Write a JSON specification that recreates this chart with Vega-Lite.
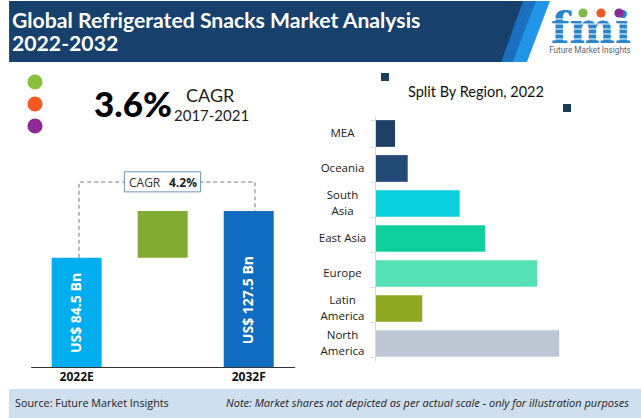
{"$schema":"https://vega.github.io/schema/vega-lite/v6.json","width":641,"height":418,"padding":0,"autosize":{"type":"none"},"background":"#ffffff","view":{"stroke":null},"config":{"font":"Open Sans"},
"resolve":{"scale":{"x":"independent","y":"independent","color":"independent"}},
"layer":[
{"data":{"values":[{"part":"light","edge":"top","reach":85.8},{"part":"light","edge":"bottom","reach":82.2},{"part":"mid","edge":"top","reach":83.6},{"part":"mid","edge":"bottom","reach":80.0},{"part":"navy","edge":"top","reach":81.6},{"part":"navy","edge":"bottom","reach":78.2}]},
"mark":{"type":"area","orient":"horizontal"},
"encoding":{"y":{"field":"edge","type":"ordinal","scale":{"type":"point","domain":["top","bottom"],"range":[1,62],"padding":0},"axis":null},"x":{"field":"reach","type":"quantitative","scale":{"domain":[0,100],"range":[0,641]},"axis":null},"x2":{"datum":1.45},"color":{"field":"part","type":"nominal","scale":{"domain":["light","mid","navy"],"range":["#2196e8","#1a6fbe","#17406d"]},"legend":null},"order":{"field":"part","sort":"ascending"},"detail":{"field":"part"}}},
{"data":{"values":[{"text":"Global Refrigerated Snacks Market Analysis","line":"first"},{"text":"2022-2032","line":"second"}]},
"mark":{"type":"text","align":"left","baseline":"middle","font":"Lato","fontWeight":"bold","fontSize":21.2,"color":"#ffffff"},
"encoding":{"text":{"field":"text"},"x":{"field":"line","type":"nominal","scale":{"type":"point","padding":0,"domain":["first","second"],"range":[12,12]},"axis":null},"y":{"field":"line","type":"nominal","scale":{"type":"point","padding":0,"domain":["first","second"],"range":[22,45]},"axis":null}}},
{"data":{"values":[{"text":"fmi"}]},
"mark":{"type":"text","align":"center","baseline":"alphabetic","font":"DejaVu Serif","fontWeight":"bold","fontSize":43,"color":"#2b85c9"},
"encoding":{"text":{"field":"text"},"x":{"field":"text","type":"nominal","scale":{"type":"point","padding":0,"domain":["fmi"],"range":[591,591]},"axis":null},"y":{"field":"text","type":"nominal","scale":{"type":"point","padding":0,"domain":["fmi"],"range":[43,43]},"axis":null}}},
{"data":{"values":[{"stripe":"a"},{"stripe":"b"},{"stripe":"c"},{"stripe":"d"},{"stripe":"e"}]},
"mark":{"type":"rule","color":"#ffffff","strokeWidth":1},
"encoding":{"y":{"field":"stripe","type":"nominal","scale":{"type":"point","padding":0,"domain":["a","b","c","d","e"],"range":[19,39]},"axis":null},"x":{"datum":85,"scale":{"domain":[0,100],"range":[0,641]},"axis":null},"x2":{"datum":99}}},
{"data":{"values":[{"text":"Future Market Insights"}]},
"mark":{"type":"text","align":"center","baseline":"middle","font":"Roboto","fontSize":8.2,"color":"#5b6670"},
"encoding":{"text":{"field":"text"},"x":{"field":"text","type":"nominal","scale":{"type":"point","padding":0,"domain":["Future Market Insights"],"range":[590,590]},"axis":null},"y":{"field":"text","type":"nominal","scale":{"type":"point","padding":0,"domain":["Future Market Insights"],"range":[51,51]},"axis":null}}},
{"data":{"values":[{"dot":"a"},{"dot":"b"},{"dot":"c"}]},
"mark":{"type":"point","filled":true,"opacity":1,"size":85},
"encoding":{"x":{"field":"dot","type":"nominal","scale":{"type":"point","padding":0,"domain":["a","b","c"],"range":[583,619]},"axis":null},"y":{"field":"dot","type":"nominal","scale":{"type":"point","padding":0,"domain":["a","b","c"],"range":[13,13]},"axis":null},"color":{"field":"dot","type":"nominal","scale":{"domain":["a","b","c"],"range":["#7dbb42","#ee5a24","#8e2a96"]},"legend":null}}},
{"data":{"values":[{"dot":"a"},{"dot":"b"},{"dot":"c"}]},
"mark":{"type":"point","filled":true,"opacity":1,"size":230},
"encoding":{"x":{"field":"dot","type":"nominal","scale":{"type":"point","padding":0,"domain":["a","b","c"],"range":[35,35]},"axis":null},"y":{"field":"dot","type":"nominal","scale":{"type":"point","padding":0,"domain":["a","b","c"],"range":[82,126]},"axis":null},"color":{"field":"dot","type":"nominal","scale":{"domain":["a","b","c"],"range":["#8ac13c","#f95a23","#8e2a96"]},"legend":null}}},
{"data":{"values":[{"text":"3.6%"}]},
"mark":{"type":"text","align":"left","baseline":"middle","font":"Lato","fontWeight":900,"fontSize":35,"color":"#000000"},
"encoding":{"text":{"field":"text"},"x":{"field":"text","type":"nominal","scale":{"type":"point","padding":0,"domain":["3.6%"],"range":[94,94]},"axis":null},"y":{"field":"text","type":"nominal","scale":{"type":"point","padding":0,"domain":["3.6%"],"range":[106,106]},"axis":null}}},
{"data":{"values":[{"text":"CAGR"}]},
"mark":{"type":"text","align":"left","baseline":"middle","font":"Lato","fontSize":18,"color":"#222222"},
"encoding":{"text":{"field":"text"},"x":{"field":"text","type":"nominal","scale":{"type":"point","padding":0,"domain":["CAGR"],"range":[186,186]},"axis":null},"y":{"field":"text","type":"nominal","scale":{"type":"point","padding":0,"domain":["CAGR"],"range":[97,97]},"axis":null}}},
{"data":{"values":[{"text":"2017-2021"}]},
"mark":{"type":"text","align":"left","baseline":"middle","font":"Lato","fontSize":15,"color":"#222222"},
"encoding":{"text":{"field":"text"},"x":{"field":"text","type":"nominal","scale":{"type":"point","padding":0,"domain":["2017-2021"],"range":[174,174]},"axis":null},"y":{"field":"text","type":"nominal","scale":{"type":"point","padding":0,"domain":["2017-2021"],"range":[116,116]},"axis":null}}},
{"data":{"values":[{"step":1,"year":"2022E","level":84.5},{"step":2,"year":"2022E","level":154.1},{"step":3,"year":"2032F","level":154.1},{"step":4,"year":"2032F","level":127.5}]},
"mark":{"type":"line","strokeDash":[4,3],"strokeWidth":1,"color":"#7a7a7a"},
"encoding":{"x":{"field":"year","type":"ordinal","scale":{"type":"point","domain":["2022E","2032F"],"range":[79,255],"padding":0},"axis":null},"y":{"field":"level","type":"quantitative","scale":{"domain":[-15.8,127.5],"range":[367,211]},"axis":null},"order":{"field":"step"}}},
{"data":{"values":[{"year":"2022E","value":84.5,"base":-15.8,"text":"US$ 84.5 Bn"},{"year":"Growth","value":127.5,"base":84.5,"text":""},{"year":"2032F","value":127.5,"base":-15.8,"text":"US$ 127.5 Bn"}]},
"encoding":{"x":{"field":"year","type":"ordinal","scale":{"type":"band","domain":["2022E","Growth","2032F"],"range":[30.7,294.7],"paddingInner":0.419,"paddingOuter":0.244},"axis":{"orient":"bottom","offset":-51,"title":null,"ticks":false,"labelAngle":0,"labelFontWeight":"bold","labelFontSize":12,"labelFont":"Open Sans","labelColor":"#111111","labelPadding":4,"domainColor":"#333333","domainWidth":1,"grid":false,"labelExpr":"datum.label == 'Growth' ? '' : datum.label"}},"y":{"field":"value","type":"quantitative","scale":{"domain":[-15.8,127.5],"range":[367,211]},"axis":null}},
"layer":[
{"mark":{"type":"bar"},"encoding":{"y2":{"field":"base"},"color":{"field":"year","type":"nominal","scale":{"domain":["2022E","Growth","2032F"],"range":["#00adef","#81ab33","#0f6cbf"]},"legend":null}}},
{"transform":[{"filter":"datum.year === '2022E'"}],"mark":{"type":"text","angle":270,"align":"center","baseline":"middle","fontWeight":"bold","fontSize":14,"color":"#ffffff"},"encoding":{"text":{"field":"text"},"y":{"datum":33.8}}},
{"transform":[{"filter":"datum.year === '2032F'"}],"mark":{"type":"text","angle":270,"align":"center","baseline":"middle","fontWeight":"bold","fontSize":14,"color":"#ffffff"},"encoding":{"text":{"field":"text"},"y":{"datum":45.7}}}
]},
{"data":{"values":[{"box":"CAGR"}]},
"mark":{"type":"rect","fill":"#ffffff","stroke":"#6b93b5","strokeWidth":1},
"encoding":{"x":{"datum":19.4,"scale":{"domain":[0,100],"range":[0,641]},"axis":null},"x2":{"datum":31.3},"y":{"datum":41.1,"scale":{"domain":[0,100],"range":[0,418]},"axis":null},"y2":{"datum":45.9}}},
{"data":{"values":[{"text":"CAGR"}]},
"mark":{"type":"text","align":"left","baseline":"middle","fontSize":12,"color":"#333333"},
"encoding":{"text":{"field":"text"},"x":{"field":"text","type":"nominal","scale":{"type":"point","padding":0,"domain":["CAGR"],"range":[129,129]},"axis":null},"y":{"field":"text","type":"nominal","scale":{"type":"point","padding":0,"domain":["CAGR"],"range":[183,183]},"axis":null}}},
{"data":{"values":[{"text":"4.2%"}]},
"mark":{"type":"text","align":"left","baseline":"middle","fontWeight":"bold","fontSize":12,"color":"#222222"},
"encoding":{"text":{"field":"text"},"x":{"field":"text","type":"nominal","scale":{"type":"point","padding":0,"domain":["4.2%"],"range":[169,169]},"axis":null},"y":{"field":"text","type":"nominal","scale":{"type":"point","padding":0,"domain":["4.2%"],"range":[183,183]},"axis":null}}},
{"data":{"values":[{"text":"Split By Region, 2022"}]},
"mark":{"type":"text","align":"left","baseline":"middle","font":"Lato","fontSize":14.5,"color":"#111111"},
"encoding":{"text":{"field":"text"},"x":{"field":"text","type":"nominal","scale":{"type":"point","padding":0,"domain":["Split By Region, 2022"],"range":[408,408]},"axis":null},"y":{"field":"text","type":"nominal","scale":{"type":"point","padding":0,"domain":["Split By Region, 2022"],"range":[93,93]},"axis":null}}},
{"data":{"values":[{"mark":"a"},{"mark":"b"}]},
"mark":{"type":"point","shape":"square","filled":true,"opacity":1,"size":64,"color":"#1c3d5a"},
"encoding":{"x":{"field":"mark","type":"nominal","scale":{"type":"point","padding":0,"domain":["a","b"],"range":[385,567]},"axis":null},"y":{"field":"mark","type":"nominal","scale":{"type":"point","padding":0,"domain":["a","b"],"range":[77,108]},"axis":null}}},
{"data":{"values":[{"region":"MEA","share":3.0},{"region":"Oceania","share":5.0},{"region":"South Asia","share":13.2},{"region":"East Asia","share":17.2},{"region":"Europe","share":25.4},{"region":"Latin America","share":7.3},{"region":"North America","share":28.9}]},
"mark":{"type":"bar"},
"encoding":{"x":{"field":"share","type":"quantitative","scale":{"domain":[0,30],"range":[376,566.2]},"axis":null},"y":{"field":"region","type":"nominal","scale":{"type":"band","domain":["MEA","Oceania","South Asia","East Asia","Europe","Latin America","North America"],"range":[116,361],"paddingInner":0.237,"paddingOuter":0.118},"axis":{"orient":"left","offset":-375,"title":null,"tickBand":"extent","tickColor":"#d9d9d9","domainColor":"#d9d9d9","tickSize":5,"grid":false,"labelAlign":"center","labelBaseline":"middle","labelPadding":28,"labelFontSize":11.5,"labelFont":"Open Sans","labelColor":"#222222","labelLineHeight":16,"labelOffset":{"condition":{"test":"indexof(datum.label,' ')>0 && datum.label!='East Asia'","value":-8},"value":0},"labelExpr":"datum.label == 'East Asia' ? datum.label : split(datum.label, ' ')"}},"color":{"field":"region","type":"nominal","scale":{"domain":["MEA","Oceania","South Asia","East Asia","Europe","Latin America","North America"],"range":["#1e3f66","#224a75","#0bcfdc","#11cf9c","#55e0b5","#8fa821","#c0c7d4"]},"legend":null}}},
{"data":{"values":[{"band":"footer"}]},
"mark":{"type":"rect","fill":"#cfdff0"},
"encoding":{"x":{"datum":1.4,"scale":{"domain":[0,100],"range":[0,641]},"axis":null},"x2":{"datum":100},"y":{"datum":93.06,"scale":{"domain":[0,100],"range":[0,418]},"axis":null},"y2":{"datum":100}}},
{"data":{"values":[{"text":"Source: Future Market Insights"}]},
"mark":{"type":"text","align":"left","baseline":"middle","fontSize":10.8,"color":"#222222"},
"encoding":{"text":{"field":"text"},"x":{"field":"text","type":"nominal","scale":{"type":"point","padding":0,"domain":["Source: Future Market Insights"],"range":[15,15]},"axis":null},"y":{"field":"text","type":"nominal","scale":{"type":"point","padding":0,"domain":["Source: Future Market Insights"],"range":[404,404]},"axis":null}}},
{"data":{"values":[{"text":"Note: Market shares not depicted as per actual scale - only for illustration purposes"}]},
"mark":{"type":"text","align":"left","baseline":"middle","fontStyle":"italic","fontSize":11,"color":"#222222"},
"encoding":{"text":{"field":"text"},"x":{"field":"text","type":"nominal","scale":{"type":"point","padding":0,"domain":["Note: Market shares not depicted as per actual scale - only for illustration purposes"],"range":[226,226]},"axis":null},"y":{"field":"text","type":"nominal","scale":{"type":"point","padding":0,"domain":["Note: Market shares not depicted as per actual scale - only for illustration purposes"],"range":[404,404]},"axis":null}}}
]}
